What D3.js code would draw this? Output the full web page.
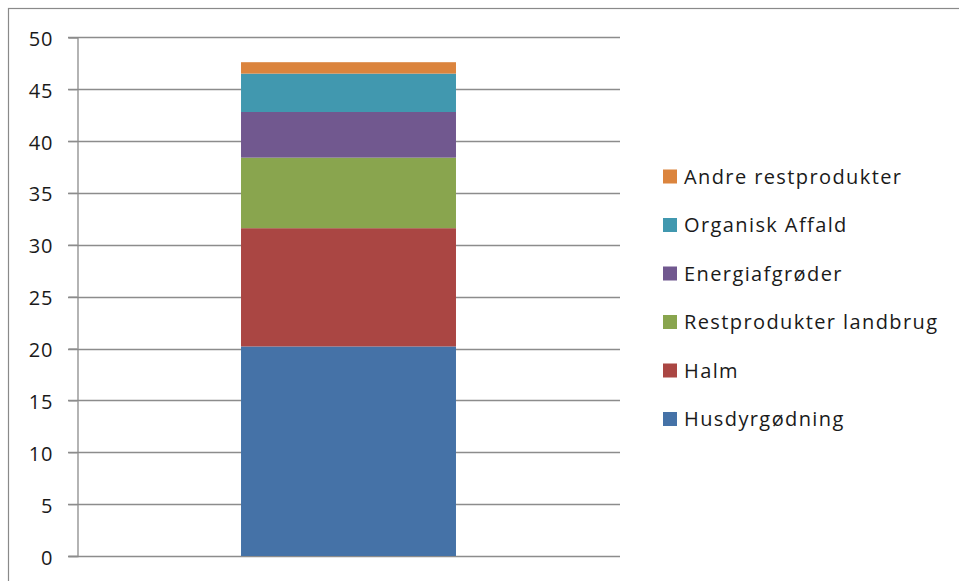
<!DOCTYPE html>
<html>
<head>
<meta charset="utf-8">
<script src="https://cdn.jsdelivr.net/npm/d3@7"></script>
<style>
  html, body { margin: 0; padding: 0; background: #fff; }
  svg { display: block; }
  text { font-family: "Open Sans", "DejaVu Sans", sans-serif; fill: #1a1a1a; }
</style>
</head>
<body>
<svg id="chart" width="959" height="581"></svg>
<script>
// ---- data ----
const categories = [""];
const seriesNames = ["Husdyrgødning", "Halm", "Restprodukter landbrug", "Energiafgrøder", "Organisk Affald", "Andre restprodukter"];
const seriesValues = [[20.2], [11.4], [6.8], [4.4], [3.7], [1.1]];
const seriesColors = ["#4572A7", "#AA4643", "#89A54E", "#71588F", "#4198AF", "#DB843D"];
const yTicks = [0, 5, 10, 15, 20, 25, 30, 35, 40, 45, 50];

// ---- layout ----
const svg = d3.select("#chart");
const plot = { left: 77, right: 620, top: 37.3, bottom: 556 };
const fontSize = 20;

// outer frame
svg.append("rect")
  .attr("x", 8.5).attr("y", 8.5)
  .attr("width", 1200).attr("height", 1200)
  .attr("fill", "none").attr("stroke", "#8a8a8a").attr("stroke-width", 1.2);

const y = d3.scaleLinear().domain([0, 50]).range([plot.bottom, plot.top]);
const x = d3.scaleBand().domain(categories).range([plot.left, plot.right])
  .paddingInner(0).paddingOuter(0.763);

// gridlines
svg.append("g").selectAll("line").data(yTicks).join("line")
  .attr("x1", plot.left - 9).attr("x2", plot.right)
  .attr("y1", d => Math.round(y(d)) + 0.5).attr("y2", d => Math.round(y(d)) + 0.5)
  .attr("stroke", "#8c8c8c").attr("stroke-width", 1.3);

// y axis via d3 axis
const yAxis = d3.axisLeft(y).tickValues(yTicks).tickSize(9).tickPadding(15).tickFormat(d3.format("d"));
const gAxis = svg.append("g").attr("transform", `translate(${plot.left + 0.5},0)`).call(yAxis);
gAxis.select(".domain").attr("stroke", "#8c8c8c").attr("stroke-width", 1.3);
gAxis.selectAll(".tick line").attr("stroke", "#8c8c8c").attr("stroke-width", 1.3);
gAxis.selectAll(".tick text")
  .style("font-family", "'Open Sans', 'DejaVu Sans', sans-serif")
  .style("font-size", fontSize + "px").style("letter-spacing", "1px")
  .attr("fill", "#1a1a1a").attr("dy", "0.4em");

// stacked bars
const stackData = categories.map((c, i) => {
  const o = { cat: c };
  seriesNames.forEach((s, j) => o[s] = seriesValues[j][i]);
  return o;
});
const stacked = d3.stack().keys(seriesNames)(stackData);
svg.append("g").selectAll("g").data(stacked).join("g")
  .attr("fill", (d, i) => seriesColors[i])
  .selectAll("rect").data(d => d).join("rect")
  .attr("x", d => x(d.data.cat))
  .attr("width", x.bandwidth())
  .attr("y", d => y(d[1]))
  .attr("height", d => y(d[0]) - y(d[1]));

// legend (reversed order, top = last series)
const legendOrder = seriesNames.map((s, i) => i).reverse();
const legend = svg.append("g");
const legendTop = 176.5, legendStep = 48.5;
legendOrder.forEach((si, k) => {
  const cy = legendTop + k * legendStep;
  legend.append("rect")
    .attr("x", 663).attr("y", cy - 7).attr("width", 14).attr("height", 14)
    .attr("fill", seriesColors[si]);
  legend.append("text")
    .attr("x", 684).attr("y", cy).attr("dy", "0.36em")
    .style("font-size", fontSize + "px").style("letter-spacing", "1.4px")
    .text(seriesNames[si]);
});
</script>
</body>
</html>
